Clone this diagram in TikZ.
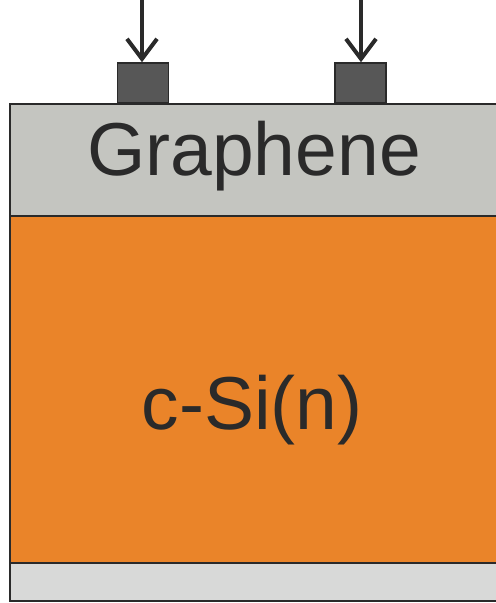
\documentclass[tikz,border=0pt]{standalone}
\usepackage{fontspec}
\setmainfont{Liberation Sans}
\usetikzlibrary{arrows.meta}
\definecolor{graphenegray}{HTML}{C4C5C0}
\definecolor{siorange}{HTML}{EA8429}
\definecolor{backgray}{HTML}{D8D9D8}
\definecolor{contactgray}{HTML}{575757}
\definecolor{inkdark}{HTML}{2A2A2A}
\tikzset{
  layer/.style={draw=inkdark, line width=2.2bp},
  contact/.style={draw=inkdark, line width=1.8bp, fill=contactgray, inner sep=0pt, minimum width=51bp, minimum height=40bp},
  probe/.style={draw=inkdark, line width=4bp, -{Straight Barb[length=20bp,width=30bp,line width=4bp]}},
  bigtext/.style={text=inkdark, font=\fontsize{75bp}{80bp}\selectfont, inner sep=0pt}
}
\begin{document}
\begin{tikzpicture}[x=1bp,y=-1bp]
\useasboundingbox (0,0) rectangle (496,603);
\clip (0,0) rectangle (496,603);
\fill[white] (0,0) rectangle (496,603);
% layers
\filldraw[layer, fill=backgray] (10,563) rectangle (520,601);
\filldraw[layer, fill=siorange] (10,216) rectangle (520,563);
\filldraw[layer, fill=graphenegray] (10,104) rectangle (520,216);
% texts
\node[bigtext] (gr) at (254,156) {Graphene};
\node[bigtext] (si) at (252,410) {c-Si(n)};
% contacts
\node[contact, anchor=south] (c1) at (143,104) {};
\node[contact, anchor=south] (c2) at (360.5,104) {};
% arrows
\coordinate (a1) at (142,0);
\coordinate (a2) at (361,0);
\draw[probe] (a1) -- (a1 |- c1.north);
\draw[probe] (a2) -- (a2 |- c2.north);
\end{tikzpicture}
\end{document}
